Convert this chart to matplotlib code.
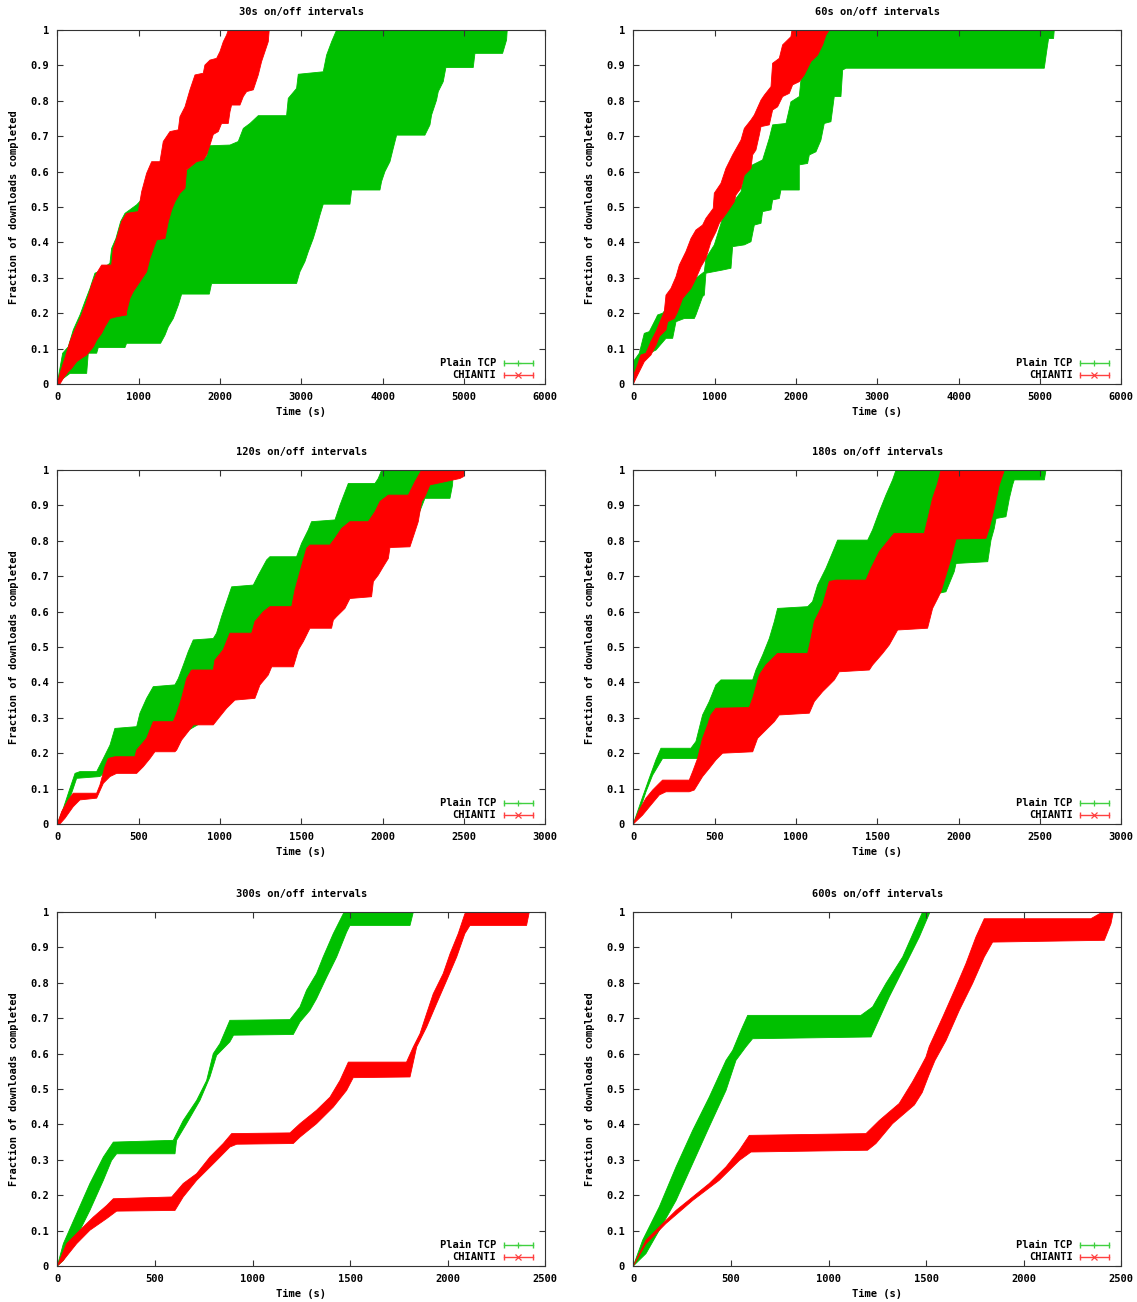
import numpy as np
import matplotlib.pyplot as plt

GREEN = '#00c000'
RED = '#ff0000'
FONT = dict(family='DejaVu Sans Mono', weight='bold', size=7.5)

# Each band is the envelope of the per-download time error bars:
# left edge listed bottom -> top, right edge listed top -> bottom, as (time s, fraction)

# 30s on/off
tcp30_left = [(0, 0), (25, 0.035), (66, 0.087), (135, 0.105), (197, 0.153), (279, 0.195),
              (340, 0.233), (402, 0.270), (463, 0.313), (504, 0.317), (647, 0.341), (668, 0.383),
              (721, 0.411), (779, 0.459), (832, 0.482), (975, 0.506), (1200, 0.56), (1570, 0.600),
              (1713, 0.628), (1836, 0.642), (1869, 0.673), (2123, 0.675), (2225, 0.685),
              (2287, 0.722), (2369, 0.736), (2471, 0.758), (2819, 0.758), (2840, 0.807),
              (2942, 0.835), (2963, 0.875), (3270, 0.882), (3311, 0.929), (3373, 0.967), (3434, 1.0)]
tcp30_right = [(5532, 1.0), (5524, 0.972), (5475, 0.934), (5135, 0.934), (5114, 0.894),
               (4778, 0.894), (4745, 0.854), (4684, 0.826), (4663, 0.802), (4602, 0.760),
               (4582, 0.732), (4520, 0.703), (4172, 0.703), (4131, 0.666), (4090, 0.628),
               (4028, 0.600), (3987, 0.572), (3967, 0.548), (3619, 0.548), (3598, 0.508),
               (3270, 0.508), (3229, 0.477), (3188, 0.442), (3147, 0.411), (3086, 0.374),
               (3045, 0.346), (2983, 0.317), (2942, 0.284), (1897, 0.284), (1869, 0.254),
               (1529, 0.254), (1488, 0.223), (1426, 0.185), (1365, 0.162), (1324, 0.138),
               (1270, 0.115), (852, 0.115), (832, 0.103), (504, 0.103), (484, 0.087), (381, 0.087),
               (361, 0.030), (156, 0.030), (74, 0.016), (0, 0)]
chi30_left = [(0, 0), (33, 0.030), (94, 0.073), (156, 0.120), (217, 0.153), (299, 0.195),
              (361, 0.233), (422, 0.280), (484, 0.313), (545, 0.336), (668, 0.336), (688, 0.383),
              (729, 0.411), (791, 0.459), (852, 0.482), (996, 0.487), (1037, 0.543), (1098, 0.595),
              (1160, 0.628), (1262, 0.628), (1303, 0.685), (1385, 0.713), (1488, 0.718),
              (1508, 0.755), (1570, 0.783), (1631, 0.831), (1693, 0.873), (1795, 0.878),
              (1815, 0.901), (1877, 0.915), (1959, 0.920), (2000, 0.939), (2041, 0.967),
              (2082, 0.986), (2102, 1.0)]
chi30_right = [(2606, 1.0), (2594, 0.967), (2553, 0.939), (2512, 0.911), (2471, 0.873),
               (2410, 0.831), (2328, 0.826), (2287, 0.812), (2246, 0.788), (2143, 0.788),
               (2123, 0.769), (2102, 0.736), (2020, 0.736), (1979, 0.713), (1918, 0.705),
               (1877, 0.675), (1836, 0.647), (1795, 0.633), (1713, 0.628), (1590, 0.605),
               (1570, 0.553), (1508, 0.539), (1447, 0.515), (1406, 0.492), (1365, 0.459),
               (1324, 0.411), (1221, 0.407), (1139, 0.355), (1098, 0.317), (1016, 0.289),
               (934, 0.261), (893, 0.242), (852, 0.204), (852, 0.195), (729, 0.190), (647, 0.185),
               (586, 0.162), (545, 0.143), (484, 0.124), (443, 0.105), (361, 0.082), (299, 0.073),
               (238, 0.063), (176, 0.044), (135, 0.035), (74, 0.016), (33, 0)]

# 60s on/off
tcp60_left = [(0, 0), (0, 0.063), (74, 0.087), (135, 0.143), (197, 0.148), (279, 0.185),
              (299, 0.195), (361, 0.200), (607, 0.270), (873, 0.317), (893, 0.355), (996, 0.393),
              (1098, 0.468), (1262, 0.524), (1324, 0.543), (1365, 0.595), (1467, 0.619),
              (1590, 0.633), (1672, 0.694), (1713, 0.732), (1877, 0.736), (1938, 0.797),
              (2041, 0.812), (2061, 0.859), (2164, 0.911), (2184, 0.925), (2246, 0.929),
              (2307, 0.967), (2348, 0.986), (2389, 1.0)]
tcp60_right = [(5176, 1.0), (5167, 0.976), (5106, 0.976), (5082, 0.939), (5053, 0.892),
               (2615, 0.892), (2574, 0.887), (2553, 0.812), (2471, 0.812), (2430, 0.741),
               (2348, 0.736), (2307, 0.689), (2246, 0.656), (2164, 0.647), (2143, 0.623),
               (2041, 0.619), (2041, 0.548), (1815, 0.548), (1795, 0.524), (1713, 0.520),
               (1693, 0.492), (1590, 0.487), (1570, 0.454), (1488, 0.449), (1447, 0.402),
               (1365, 0.393), (1221, 0.388), (1201, 0.327), (1098, 0.322), (893, 0.313),
               (873, 0.251), (852, 0.247), (770, 0.195), (750, 0.185), (627, 0.185), (525, 0.176),
               (484, 0.129), (402, 0.129), (279, 0.096), (156, 0.082), (33, 0.035), (0, 0)]
chi60_left = [(0, 0), (12, 0.030), (53, 0.054), (94, 0.082), (156, 0.087), (217, 0.120),
              (279, 0.148), (320, 0.171), (381, 0.204), (402, 0.251), (463, 0.270), (525, 0.303),
              (566, 0.336), (647, 0.374), (709, 0.411), (770, 0.435), (852, 0.449), (893, 0.468),
              (983, 0.496), (996, 0.539), (1078, 0.567), (1139, 0.609), (1221, 0.647),
              (1324, 0.689), (1365, 0.722), (1447, 0.746), (1488, 0.760), (1570, 0.802),
              (1611, 0.816), (1693, 0.840), (1713, 0.906), (1795, 0.920), (1836, 0.958),
              (1938, 0.981), (1951, 1.0)]
chi60_right = [(2410, 1.0), (2369, 0.986), (2328, 0.958), (2266, 0.929), (2184, 0.911),
               (2143, 0.892), (2102, 0.873), (2041, 0.854), (1959, 0.845), (1918, 0.821),
               (1836, 0.812), (1774, 0.783), (1713, 0.774), (1672, 0.732), (1570, 0.727),
               (1549, 0.703), (1508, 0.661), (1467, 0.647), (1447, 0.609), (1365, 0.590),
               (1324, 0.553), (1262, 0.534), (1242, 0.515), (1160, 0.487), (1057, 0.454),
               (1016, 0.430), (955, 0.402), (893, 0.355), (832, 0.331), (770, 0.298), (709, 0.270),
               (607, 0.242), (545, 0.204), (504, 0.185), (422, 0.176), (402, 0.153), (320, 0.134),
               (279, 0.110), (217, 0.082), (135, 0.063), (94, 0.044), (33, 0.016), (0, 0)]

# 120s on/off
tcp120_left = [(0, 0), (37, 0.044), (78, 0.101), (109, 0.143), (139, 0.148), (242, 0.148),
               (283, 0.185), (324, 0.223), (354, 0.270), (488, 0.275), (508, 0.313), (549, 0.355),
               (590, 0.388), (723, 0.393), (744, 0.411), (775, 0.449), (805, 0.487), (836, 0.520),
               (959, 0.524), (979, 0.539), (1010, 0.586), (1041, 0.628), (1072, 0.670),
               (1205, 0.675), (1236, 0.703), (1287, 0.746), (1307, 0.755), (1471, 0.755),
               (1502, 0.793), (1543, 0.831), (1563, 0.854), (1707, 0.859), (1738, 0.901),
               (1758, 0.925), (1789, 0.962), (1953, 0.962), (1973, 0.976), (1994, 1.0)]
tcp120_right = [(2434, 1.0), (2430, 0.958), (2414, 0.920), (2260, 0.920), (2200, 0.85),
                (2050, 0.80), (1950, 0.72), (1850, 0.67), (1650, 0.60), (1450, 0.52),
                (1350, 0.47), (1250, 0.43), (1150, 0.38), (1000, 0.32), (900, 0.29), (750, 0.25),
                (650, 0.22), (500, 0.18), (400, 0.16), (300, 0.15), (262, 0.134), (119, 0.129),
                (88, 0.087), (57, 0.044), (0, 0)]
chi120_left = [(0, 0), (27, 0.035), (68, 0.068), (98, 0.087), (242, 0.087), (262, 0.110),
               (293, 0.162), (313, 0.185), (354, 0.190), (477, 0.190), (488, 0.209), (549, 0.242),
               (590, 0.289), (713, 0.289), (734, 0.313), (764, 0.355), (795, 0.411), (826, 0.435),
               (959, 0.435), (969, 0.463), (1020, 0.492), (1061, 0.539), (1195, 0.539),
               (1215, 0.572), (1267, 0.600), (1307, 0.614), (1441, 0.614), (1461, 0.661),
               (1492, 0.713), (1533, 0.779), (1553, 0.788), (1676, 0.788), (1707, 0.807),
               (1748, 0.835), (1799, 0.854), (1912, 0.854), (1953, 0.882), (1984, 0.911),
               (2035, 0.929), (2158, 0.929), (2199, 0.967), (2240, 1.0)]
chi120_right = [(2506, 1.0), (2496, 0.981), (2475, 0.976), (2291, 0.958), (2260, 0.925),
                (2240, 0.911), (2219, 0.854), (2199, 0.826), (2168, 0.783), (2045, 0.781),
                (2035, 0.750), (2004, 0.727), (1973, 0.703), (1943, 0.685), (1932, 0.642),
                (1799, 0.637), (1768, 0.609), (1717, 0.586), (1697, 0.576), (1686, 0.553),
                (1553, 0.553), (1512, 0.515), (1482, 0.492), (1461, 0.459), (1451, 0.444),
                (1318, 0.444), (1297, 0.421), (1246, 0.393), (1215, 0.355), (1092, 0.350),
                (1041, 0.327), (990, 0.298), (959, 0.280), (836, 0.280), (805, 0.261),
                (764, 0.237), (734, 0.209), (723, 0.204), (600, 0.204), (570, 0.185), (529, 0.162),
                (488, 0.143), (365, 0.143), (324, 0.134), (283, 0.115), (242, 0.073), (139, 0.068),
                (98, 0.049), (47, 0.016), (16, 0)]

# 180s on/off
tcp180_left = [(0, 0), (47, 0.063), (98, 0.129), (139, 0.181), (170, 0.214), (354, 0.214),
               (385, 0.233), (426, 0.308), (467, 0.346), (508, 0.393), (539, 0.407), (734, 0.407),
               (754, 0.435), (795, 0.477), (836, 0.524), (867, 0.572), (887, 0.609), (1072, 0.614),
               (1102, 0.628), (1133, 0.675), (1184, 0.722), (1236, 0.779), (1256, 0.802),
               (1441, 0.802), (1471, 0.831), (1512, 0.882), (1553, 0.929), (1594, 0.972),
               (1615, 1.0)]
tcp180_right = [(2537, 1.0), (2527, 0.972), (2342, 0.972), (2332, 0.958), (2312, 0.920),
                (2291, 0.868), (2230, 0.863), (2219, 0.835), (2199, 0.802), (2179, 0.741),
                (1984, 0.736), (1973, 0.713), (1922, 0.656), (1881, 0.652), (1800, 0.60),
                (1600, 0.55), (1400, 0.50), (1200, 0.45), (1000, 0.40), (800, 0.33), (600, 0.28),
                (450, 0.23), (395, 0.185), (180, 0.185), (119, 0.138), (78, 0.091), (37, 0.035),
                (0, 0)]
chi180_left = [(0, 0), (37, 0.040), (78, 0.073), (119, 0.096), (160, 0.115), (180, 0.124),
               (344, 0.124), (365, 0.148), (395, 0.185), (426, 0.242), (457, 0.280), (477, 0.308),
               (508, 0.327), (713, 0.329), (734, 0.355), (775, 0.421), (815, 0.449), (887, 0.482),
               (1072, 0.482), (1092, 0.524), (1113, 0.572), (1164, 0.619), (1205, 0.685),
               (1246, 0.689), (1430, 0.689), (1461, 0.722), (1512, 0.769), (1563, 0.798),
               (1604, 0.821), (1789, 0.821), (1809, 0.859), (1840, 0.920), (1871, 0.962),
               (1891, 1.0)]
chi180_right = [(2281, 1.0), (2250, 0.958), (2219, 0.892), (2188, 0.835), (2168, 0.807),
                (1984, 0.805), (1953, 0.750), (1922, 0.703), (1891, 0.656), (1871, 0.637),
                (1840, 0.609), (1809, 0.553), (1625, 0.548), (1574, 0.506), (1533, 0.482),
                (1471, 0.449), (1451, 0.435), (1266, 0.430), (1236, 0.407), (1195, 0.388),
                (1164, 0.374), (1113, 0.346), (1082, 0.313), (897, 0.308), (867, 0.289),
                (836, 0.275), (764, 0.242), (734, 0.204), (549, 0.200), (508, 0.181), (467, 0.157),
                (426, 0.134), (375, 0.096), (344, 0.091), (201, 0.091), (160, 0.082), (109, 0.054),
                (57, 0.025), (0, 0)]

# 300s on/off
tcp300_left = [(0, 0), (31, 0.063), (99, 0.148), (167, 0.233), (236, 0.308), (287, 0.350),
               (594, 0.355), (645, 0.411), (714, 0.468), (765, 0.524), (799, 0.600), (833, 0.628),
               (884, 0.694), (1192, 0.696), (1243, 0.732), (1277, 0.779), (1328, 0.826),
               (1362, 0.873), (1414, 0.939), (1465, 0.995), (1474, 1.0)]
tcp300_right = [(1824, 1.0), (1807, 0.962), (1499, 0.962), (1482, 0.943), (1431, 0.873),
                (1380, 0.816), (1328, 0.755), (1294, 0.722), (1243, 0.689), (1209, 0.654),
                (903, 0.652), (884, 0.633), (816, 0.595), (782, 0.534), (731, 0.468), (662, 0.402),
                (611, 0.355), (603, 0.317), (304, 0.317), (278, 0.298), (236, 0.242), (167, 0.157),
                (99, 0.082), (31, 0.016), (0, 0)]
chi300_left = [(0, 0), (48, 0.063), (116, 0.101), (184, 0.138), (253, 0.171), (287, 0.190),
               (586, 0.195), (645, 0.233), (714, 0.261), (782, 0.308), (850, 0.346), (893, 0.374),
               (1192, 0.376), (1243, 0.402), (1328, 0.440), (1397, 0.477), (1448, 0.524),
               (1491, 0.576), (1789, 0.576), (1824, 0.619), (1858, 0.656), (1892, 0.713),
               (1926, 0.769), (1977, 0.826), (2012, 0.882), (2054, 0.939), (2088, 0.995),
               (2097, 1.0)]
chi300_right = [(2418, 1.0), (2404, 0.962), (2114, 0.962), (2088, 0.939), (2046, 0.873),
                (1995, 0.807), (1943, 0.741), (1892, 0.675), (1841, 0.619), (1807, 0.534),
                (1516, 0.532), (1482, 0.496), (1414, 0.449), (1328, 0.402), (1243, 0.364),
                (1209, 0.346), (919, 0.344), (884, 0.336), (816, 0.298), (714, 0.242), (645, 0.195),
                (603, 0.157), (304, 0.155), (253, 0.134), (167, 0.101), (99, 0.063), (31, 0.016),
                (0, 0)]

# 600s on/off
tcp600_left = [(0, 0), (48, 0.073), (133, 0.167), (219, 0.280), (304, 0.383), (389, 0.477),
               (475, 0.581), (509, 0.609), (552, 0.666), (586, 0.708), (1166, 0.708), (1226, 0.732),
               (1294, 0.798), (1380, 0.873), (1448, 0.958), (1482, 1.0)]
tcp600_right = [(1520, 1.0), (1465, 0.929), (1397, 0.854), (1311, 0.760), (1218, 0.647),
                (611, 0.642), (577, 0.619), (526, 0.581), (475, 0.496), (389, 0.393), (304, 0.289),
                (219, 0.185), (133, 0.101), (65, 0.035), (0, 0)]
chi600_left = [(0, 0), (65, 0.073), (133, 0.110), (219, 0.157), (304, 0.195), (389, 0.233),
               (475, 0.280), (543, 0.327), (594, 0.369), (1192, 0.374), (1260, 0.411),
               (1362, 0.459), (1430, 0.520), (1470, 0.560), (1499, 0.590), (1516, 0.620),
               (1585, 0.703), (1653, 0.788), (1704, 0.854), (1755, 0.929), (1798, 0.981),
               (2344, 0.981), (2404, 1.0)]
chi600_right = [(2459, 1.0), (2447, 0.967), (2413, 0.920), (1841, 0.915), (1798, 0.873),
                (1738, 0.798), (1670, 0.722), (1602, 0.637), (1545, 0.580), (1515, 0.540),
                (1480, 0.490), (1440, 0.455), (1328, 0.402), (1243, 0.346), (1200, 0.327),
                (603, 0.322), (543, 0.298), (440, 0.242), (304, 0.185), (167, 0.120), (65, 0.063),
                (0, 0)]

titles = ["30s on/off intervals", "60s on/off intervals", "120s on/off intervals",
          "180s on/off intervals", "300s on/off intervals", "600s on/off intervals"]
x_max = [6000, 6000, 3000, 3000, 2500, 2500]
x_step = [1000, 1000, 500, 500, 500, 500]
tcp_bands = [(tcp30_left, tcp30_right), (tcp60_left, tcp60_right), (tcp120_left, tcp120_right),
             (tcp180_left, tcp180_right), (tcp300_left, tcp300_right), (tcp600_left, tcp600_right)]
chi_bands = [(chi30_left, chi30_right), (chi60_left, chi60_right), (chi120_left, chi120_right),
             (chi180_left, chi180_right), (chi300_left, chi300_right), (chi600_left, chi600_right)]


def draw_band(ax, left, right, color):
    xs = [p[0] for p in left] + [p[0] for p in right]
    ys = [p[1] for p in left] + [p[1] for p in right]
    ax.fill(xs, ys, color=color, ec=color, lw=0.6)


def draw_key(ax):
    rows = [("Plain TCP", 0.059, '#40d040', '+'), ("CHIANTI", 0.025, '#ff4040', 'x')]
    for label, y, c, m in rows:
        ax.text(0.900, y, label, ha='right', va='center', transform=ax.transAxes, **FONT)
        ax.plot([0.915, 0.975], [y, y], color=c, lw=1.0, transform=ax.transAxes, clip_on=False)
        ax.plot([0.915, 0.975], [y, y], ls='none', marker='|', ms=5, mew=1.0, color=c,
                transform=ax.transAxes, clip_on=False)
        ax.plot([0.945], [y], ls='none', marker=m, ms=5, mew=0.9, color=c,
                transform=ax.transAxes, clip_on=False)


fig = plt.figure(figsize=(11.37, 13.02), dpi=100)
W, H = 1137.0, 1302.0
lefts = [57.3, 633.3]
bottoms = [384, 824, 1266]
aw, ah = 488.0, 354.0

for i in range(6):
    col, row = i % 2, i // 2
    ax = fig.add_axes([lefts[col] / W, 1 - bottoms[row] / H, aw / W, ah / H])
    draw_band(ax, *tcp_bands[i], GREEN)
    draw_band(ax, *chi_bands[i], RED)

    ax.set_xlim(0, x_max[i])
    ax.set_ylim(0, 1)
    ax.set_xticks(np.arange(0, x_max[i] + 1, x_step[i]))
    yt = np.round(np.arange(0, 1.01, 0.1), 1)
    ax.set_yticks(yt)
    ax.set_yticklabels(["0"] + [f"{v:g}" for v in yt[1:-1]] + ["1"])
    ax.tick_params(direction='in', top=True, right=True, length=4, width=0.8,
                   color='#333333', pad=6)
    for lab in ax.get_xticklabels() + ax.get_yticklabels():
        lab.set_fontfamily(FONT['family'])
        lab.set_fontweight('bold')
        lab.set_fontsize(FONT['size'])
    for s in ax.spines.values():
        s.set_color('#333333')
        s.set_linewidth(0.8)

    ax.text(0.5, 1 + 18 / ah, titles[i], ha='center', va='center', transform=ax.transAxes, **FONT)
    ax.text(0.5, -28 / ah, "Time (s)", ha='center', va='center', transform=ax.transAxes, **FONT)
    ax.text(-43 / aw, 0.5, "Fraction of downloads completed", rotation=90, ha='center',
            va='center', transform=ax.transAxes, **FONT)
    draw_key(ax)

fig.savefig("out.png", dpi=100)
